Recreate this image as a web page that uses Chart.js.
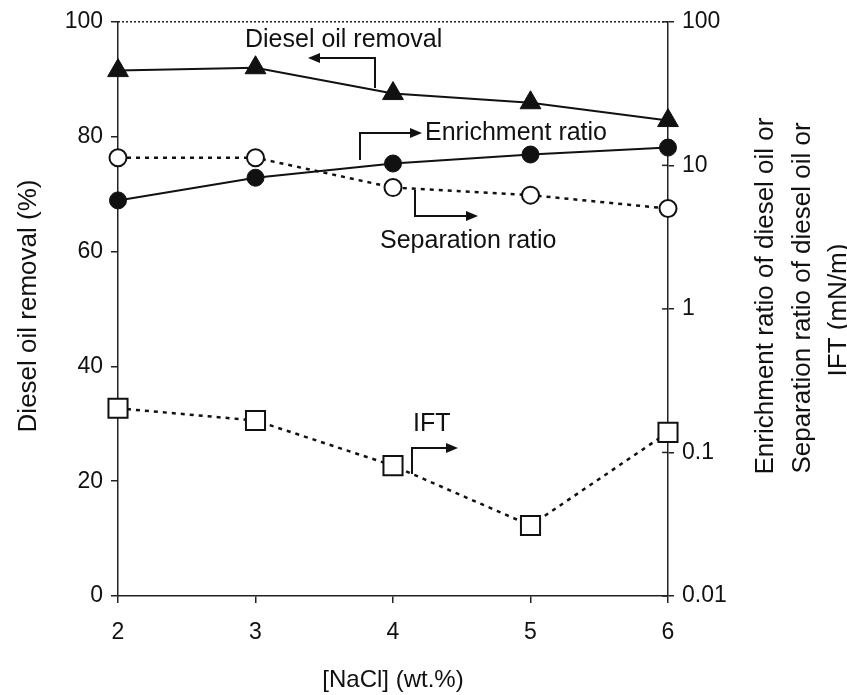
<!DOCTYPE html>
<html>
<head>
<meta charset="utf-8">
<script src="https://cdn.jsdelivr.net/npm/chart.js@4/dist/chart.umd.min.js"></script>
<style>
  html, body { margin: 0; padding: 0; background: #fff; }
  #wrap { width: 847px; height: 695px; }
</style>
</head>
<body>
<div id="wrap"><canvas id="chart" width="847" height="695"></canvas></div>
<script>
  const nacl = [2, 3, 4, 5, 6];
  const dieselRemoval = [91.5, 92.0, 87.5, 85.9, 82.8];
  const enrichmentRatio = [5.7, 8.2, 10.3, 11.9, 13.3];
  const separationRatio = [11.3, 11.3, 7.0, 6.2, 5.0];
  const ift = [0.203, 0.167, 0.081, 0.031, 0.138];
  const leftTicks = [0, 20, 40, 60, 80, 100];
  const rightTicks = [0.01, 0.1, 1, 10, 100];
  const xTicks = [2, 3, 4, 5, 6];

  const FONT = 'Liberation Sans, Arial, sans-serif';

  const toPoints = (ys) => nacl.map((x, i) => ({ x: x, y: ys[i] }));

  // arrow with a bend: vertical stub then horizontal to the head
  function bentArrow(ctx, x0, y0, x1, y1, x2) {
    ctx.beginPath();
    ctx.moveTo(x0, y0);
    ctx.lineTo(x1, y1);
    ctx.lineTo(x2 - (x2 > x1 ? 6 : -6), y1);
    ctx.stroke();
    const dir = x2 > x1 ? 1 : -1;
    ctx.beginPath();
    ctx.moveTo(x2, y1);
    ctx.lineTo(x2 - dir * 12, y1 - 5);
    ctx.lineTo(x2 - dir * 12, y1 + 5);
    ctx.closePath();
    ctx.fill();
  }

  const extras = {
    id: 'extras',
    beforeDatasetsDraw(chart) {
      const ctx = chart.ctx;
      const area = chart.chartArea;
      ctx.save();
      // dotted top border at 100
      ctx.strokeStyle = '#222';
      ctx.lineWidth = 1.5;
      ctx.setLineDash([2, 2]);
      ctx.beginPath();
      ctx.moveTo(area.left, area.top);
      ctx.lineTo(area.right, area.top);
      ctx.stroke();
      ctx.setLineDash([]);
      // inner halves of the right axis ticks
      const y2 = chart.scales.y2;
      rightTicks.forEach((v) => {
        const py = y2.getPixelForValue(v);
        ctx.beginPath();
        ctx.moveTo(area.right - 6, py);
        ctx.lineTo(area.right, py);
        ctx.stroke();
      });
      ctx.restore();
    },
    afterDraw(chart) {
      const ctx = chart.ctx;
      ctx.save();
      ctx.fillStyle = '#111';
      ctx.strokeStyle = '#111';
      ctx.lineWidth = 2;

      // axis titles
      ctx.font = '26px ' + FONT;
      ctx.textAlign = 'center';
      ctx.textBaseline = 'middle';
      ctx.save();
      ctx.translate(29, 306);
      ctx.rotate(-Math.PI / 2);
      ctx.fillText('Diesel oil removal (%)', 0, 0);
      ctx.restore();

      const rightTitle = [
        ['Enrichment ratio of diesel oil or', 766, 296],
        ['Separation ratio of diesel oil or', 803, 298],
        ['IFT (mN/m)', 839, 310],
      ];
      rightTitle.forEach(([line, x, y]) => {
        ctx.save();
        ctx.translate(x, y);
        ctx.rotate(-Math.PI / 2);
        ctx.fillText(line, 0, 0);
        ctx.restore();
      });

      // series labels with arrows
      ctx.font = '25px ' + FONT;
      ctx.textAlign = 'left';
      ctx.fillText('Diesel oil removal', 245, 40);
      bentArrow(ctx, 375, 88, 375, 58, 308);

      ctx.fillText('Enrichment ratio', 425, 133);
      bentArrow(ctx, 360, 160, 360, 133, 422);

      ctx.fillText('Separation ratio', 380, 241);
      bentArrow(ctx, 415, 190, 415, 216, 478);

      ctx.fillText('IFT', 413, 424);
      bentArrow(ctx, 412, 474, 412, 448, 458);

      ctx.restore();
    },
  };

  const data = {
    datasets: [
      {
        label: 'Diesel oil removal',
        data: toPoints(dieselRemoval),
        yAxisID: 'y',
        clip: false,
        borderColor: '#111',
        borderWidth: 2,
        pointStyle: 'triangle',
        pointRadius: 12,
        pointBackgroundColor: '#111',
        pointBorderColor: '#111',
        pointBorderWidth: 1,
      },
      {
        label: 'Enrichment ratio',
        data: toPoints(enrichmentRatio),
        yAxisID: 'y2',
        clip: false,
        borderColor: '#111',
        borderWidth: 2,
        pointStyle: 'circle',
        pointRadius: 8.5,
        pointBackgroundColor: '#111',
        pointBorderColor: '#111',
        pointBorderWidth: 1,
      },
      {
        label: 'Separation ratio',
        data: toPoints(separationRatio),
        yAxisID: 'y2',
        clip: false,
        borderColor: '#111',
        borderWidth: 2.5,
        borderDash: [4, 5],
        pointStyle: 'circle',
        pointRadius: 8.5,
        pointBackgroundColor: '#fff',
        pointBorderColor: '#111',
        pointBorderWidth: 2,
      },
      {
        label: 'IFT',
        data: toPoints(ift),
        yAxisID: 'y2',
        clip: false,
        borderColor: '#111',
        borderWidth: 2.5,
        borderDash: [4, 5],
        pointStyle: 'rect',
        pointRadius: 13.5,
        pointBackgroundColor: '#fff',
        pointBorderColor: '#111',
        pointBorderWidth: 2,
      },
    ],
  };

  const config = {
    type: 'line',
    data,
    options: {
      responsive: false,
      animation: false,
      layout: { padding: { top: 21, left: 0, right: 0, bottom: 0 } },
      plugins: {
        legend: { display: false },
        tooltip: { enabled: false },
      },
      scales: {
        x: {
          type: 'linear',
          min: 2,
          max: 6,
          afterBuildTicks: (axis) => {
            axis.ticks = xTicks.map((v) => ({ value: v }));
          },
          afterFit: (axis) => {
            axis.height = 99;
          },
          grid: { drawOnChartArea: false, drawTicks: true, tickLength: 7, color: '#222', lineWidth: 1.5 },
          border: { display: true, color: '#222', width: 1.5 },
          ticks: { color: '#111', font: { family: FONT, size: 23 }, padding: 16 },
          title: {
            display: true,
            text: '[NaCl] (wt.%)',
            color: '#111',
            font: { family: FONT, size: 24 },
            padding: { top: 0, bottom: 0 },
          },
        },
        y: {
          type: 'linear',
          position: 'left',
          min: 0,
          max: 100,
          afterBuildTicks: (axis) => {
            axis.ticks = leftTicks.map((v) => ({ value: v }));
          },
          afterFit: (axis) => {
            axis.width = 118;
          },
          grid: { drawOnChartArea: false, drawTicks: true, tickLength: 7, color: '#222', lineWidth: 1.5 },
          border: { display: true, color: '#222', width: 1.5 },
          ticks: { color: '#111', font: { family: FONT, size: 23 }, padding: 8 },
        },
        y2: {
          type: 'logarithmic',
          position: 'right',
          min: 0.01,
          max: 100,
          afterBuildTicks: (axis) => {
            axis.ticks = rightTicks.map((v) => ({ value: v }));
          },
          afterFit: (axis) => {
            axis.width = 179;
          },
          grid: { drawOnChartArea: false, drawTicks: true, tickLength: 6, color: '#222', lineWidth: 1.5 },
          border: { display: true, color: '#222', width: 1.5 },
          ticks: {
            color: '#111',
            font: { family: FONT, size: 23 },
            padding: 8,
            callback: (v) => String(v),
          },
        },
      },
    },
    plugins: [extras],
  };

  const chart = new Chart(document.getElementById('chart'), config);
</script>
</body>
</html>
